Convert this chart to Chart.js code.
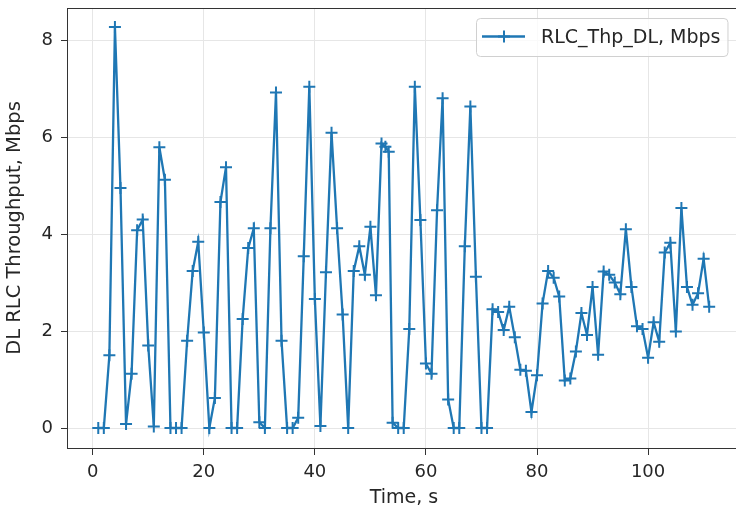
<!DOCTYPE html>
<html>
<head>
<meta charset="utf-8">
<script src="https://cdn.jsdelivr.net/npm/chart.js@4.4.0/dist/chart.umd.min.js"></script>
<style>
  html, body { margin: 0; padding: 0; overflow: hidden; background: #fff; }
  #wrap { position: absolute; left: 0; top: 0; width: 748px; height: 514px; }
</style>
</head>
<body>
<div id="wrap"><canvas id="grafica" width="748" height="514"></canvas></div>
<script>
// tiempos (s) y throughput DL RLC (Mbps)
const tiempos = [
  1, 2, 3, 4, 5, 6, 7, 8, 9, 10, 11, 12, 13, 14, 15, 16, 17, 18, 19, 20,
  21, 22, 23, 24, 25, 26, 27, 28, 29, 30, 31, 32, 33, 34, 35, 36, 37, 38, 39, 40,
  41, 42, 43, 44, 45, 46, 47, 48, 49, 50, 51, 52, 52.7, 53.3, 54, 55, 56, 57, 58, 59,
  60, 61, 62, 63, 64, 65, 66, 67, 68, 69, 70, 71, 72, 73, 74, 75, 76, 77, 78, 79,
  80, 81, 82, 83, 84, 85, 86, 87, 88, 89, 90, 91, 92, 93, 94, 95, 96, 97, 98, 99,
  100, 101, 102, 103, 104, 105, 106, 107, 108, 109, 110, 111
];
const rlcThpDl = [
  0, 0, 1.50, 8.27, 4.95, 0.08, 1.12, 4.08, 4.30, 1.70, 0.03, 5.79, 5.12, 0, 0, 0, 1.80, 3.24, 3.84, 1.97,
  0, 0.62, 4.66, 5.38, 0, 0, 2.25, 3.71, 4.12, 0.12, 0, 4.12, 6.92, 1.80, 0, 0, 0.21, 3.54, 7.04, 2.66,
  0.04, 3.21, 6.09, 4.12, 2.34, 0, 3.24, 3.75, 3.16, 4.15, 2.74, 5.87, 5.80, 5.70, 0.11, 0, 0, 2.04, 7.04, 4.29,
  1.33, 1.12, 4.49, 6.80, 0.59, 0, 0, 3.75, 6.63, 3.12, 0, 0, 2.45, 2.39, 2.02, 2.50, 1.87, 1.20, 1.18, 0.33,
  1.09, 2.57, 3.24, 3.10, 2.71, 0.98, 1.02, 1.58, 2.37, 1.92, 2.91, 1.51, 3.23, 3.16, 3.00, 2.76, 4.10, 2.91, 2.10, 2.04,
  1.45, 2.18, 1.78, 3.62, 3.82, 1.99, 4.54, 2.91, 2.54, 2.78, 3.49, 2.50
];
const xTicks = [0, 20, 40, 60, 80, 100];
const yTicks = [0, 2, 4, 6, 8];
const serieLabel = "RLC_Thp_DL, Mbps";
const xTitulo = "Time, s";
const yTitulo = "DL RLC Throughput, Mbps";

const azul = "#1f77b4";
const fuente = "'DejaVu Sans', sans-serif";

Chart.defaults.font.family = fuente;
Chart.defaults.font.size = 18;
Chart.defaults.color = "#262626";

// marco completo (estilo matplotlib) + leyenda dentro del area
const marcoPlugin = {
  id: "marco",
  afterDraw(chart) {
    const { ctx, chartArea: a } = chart;
    ctx.save();
    ctx.strokeStyle = "#333";
    ctx.lineWidth = 1;
    ctx.strokeRect(Math.round(a.left) - 0.5, Math.round(a.top) + 0.5,
      Math.round(a.right - a.left), Math.round(a.bottom - a.top));

    // leyenda
    const ds = chart.data.datasets[0];
    ctx.font = "19px " + fuente;
    const anchoTexto = ctx.measureText(ds.label).width;
    const alto = 38;
    const ancho = 7 + 42 + 16 + anchoTexto + 7;
    const x0 = Math.round(a.right - 13 - ancho);
    const y0 = a.top + 10.5;
    ctx.beginPath();
    ctx.roundRect(x0 + 0.5, y0, ancho, alto, 4);
    ctx.fillStyle = "rgba(255,255,255,0.8)";
    ctx.fill();
    ctx.strokeStyle = "#d0d0d0";
    ctx.stroke();

    const yl = y0 + alto / 2 - 1;
    ctx.strokeStyle = ds.borderColor;
    ctx.lineWidth = ds.borderWidth;
    ctx.beginPath();
    ctx.moveTo(x0 + 6, yl);
    ctx.lineTo(x0 + 49, yl);
    ctx.stroke();
    ctx.lineWidth = ds.pointBorderWidth;
    ctx.beginPath();
    ctx.moveTo(x0 + 28 - 6, yl);
    ctx.lineTo(x0 + 28 + 6, yl);
    ctx.moveTo(x0 + 28, yl - 6);
    ctx.lineTo(x0 + 28, yl + 6);
    ctx.stroke();

    ctx.fillStyle = "#262626";
    ctx.textBaseline = "middle";
    ctx.textAlign = "left";
    ctx.fillText(ds.label, x0 + 65, yl + 2);
    ctx.restore();
  }
};

const ctx = document.getElementById("grafica").getContext("2d");

new Chart(ctx, {
  type: "line",
  data: {
    datasets: [
      {
        label: serieLabel,
        data: tiempos.map((t, i) => ({ x: t, y: rlcThpDl[i] })),
        borderColor: azul,
        backgroundColor: azul,
        borderWidth: 2.3,
        pointStyle: "cross",
        pointRadius: 6,
        pointBorderWidth: 2,
        pointBorderColor: azul,
        tension: 0,
        fill: false,
      },
    ],
  },
  options: {
    responsive: false,
    animation: false,
    layout: { padding: { top: 5, right: 0, bottom: 0, left: 0 } },
    plugins: {
      legend: { display: false },
      tooltip: { enabled: false },
    },
    scales: {
      x: {
        type: "linear",
        min: -4.45,
        max: 116.55,
        afterBuildTicks: (s) => { s.ticks = xTicks.map((v) => ({ value: v })); },
        afterFit: (s) => {
          s.height = 66;
          s.paddingLeft = 0; s.paddingRight = 0;
        },
        border: { display: false },
        grid: { color: "#e6e6e6", lineWidth: 1, tickColor: "#333", tickLength: 7 },
        ticks: { padding: 7, maxRotation: 0 },
        title: { display: true, text: xTitulo, font: { size: 19 }, padding: { top: 0, bottom: 5 } },
      },
      y: {
        type: "linear",
        min: -0.4125,
        max: 8.6625,
        afterBuildTicks: (s) => { s.ticks = yTicks.map((v) => ({ value: v })); },
        afterFit: (s) => {
          s.width = 68;
          s.paddingTop = 0; s.paddingBottom = 0;
        },
        border: { display: false },
        grid: { color: "#e6e6e6", lineWidth: 1, tickColor: "#333", tickLength: 7 },
        ticks: { padding: 8 },
        title: { display: true, text: yTitulo, font: { size: 19.5 }, padding: { top: 3, bottom: 0 } },
      },
    },
  },
  plugins: [marcoPlugin],
});
</script>
</body>
</html>
